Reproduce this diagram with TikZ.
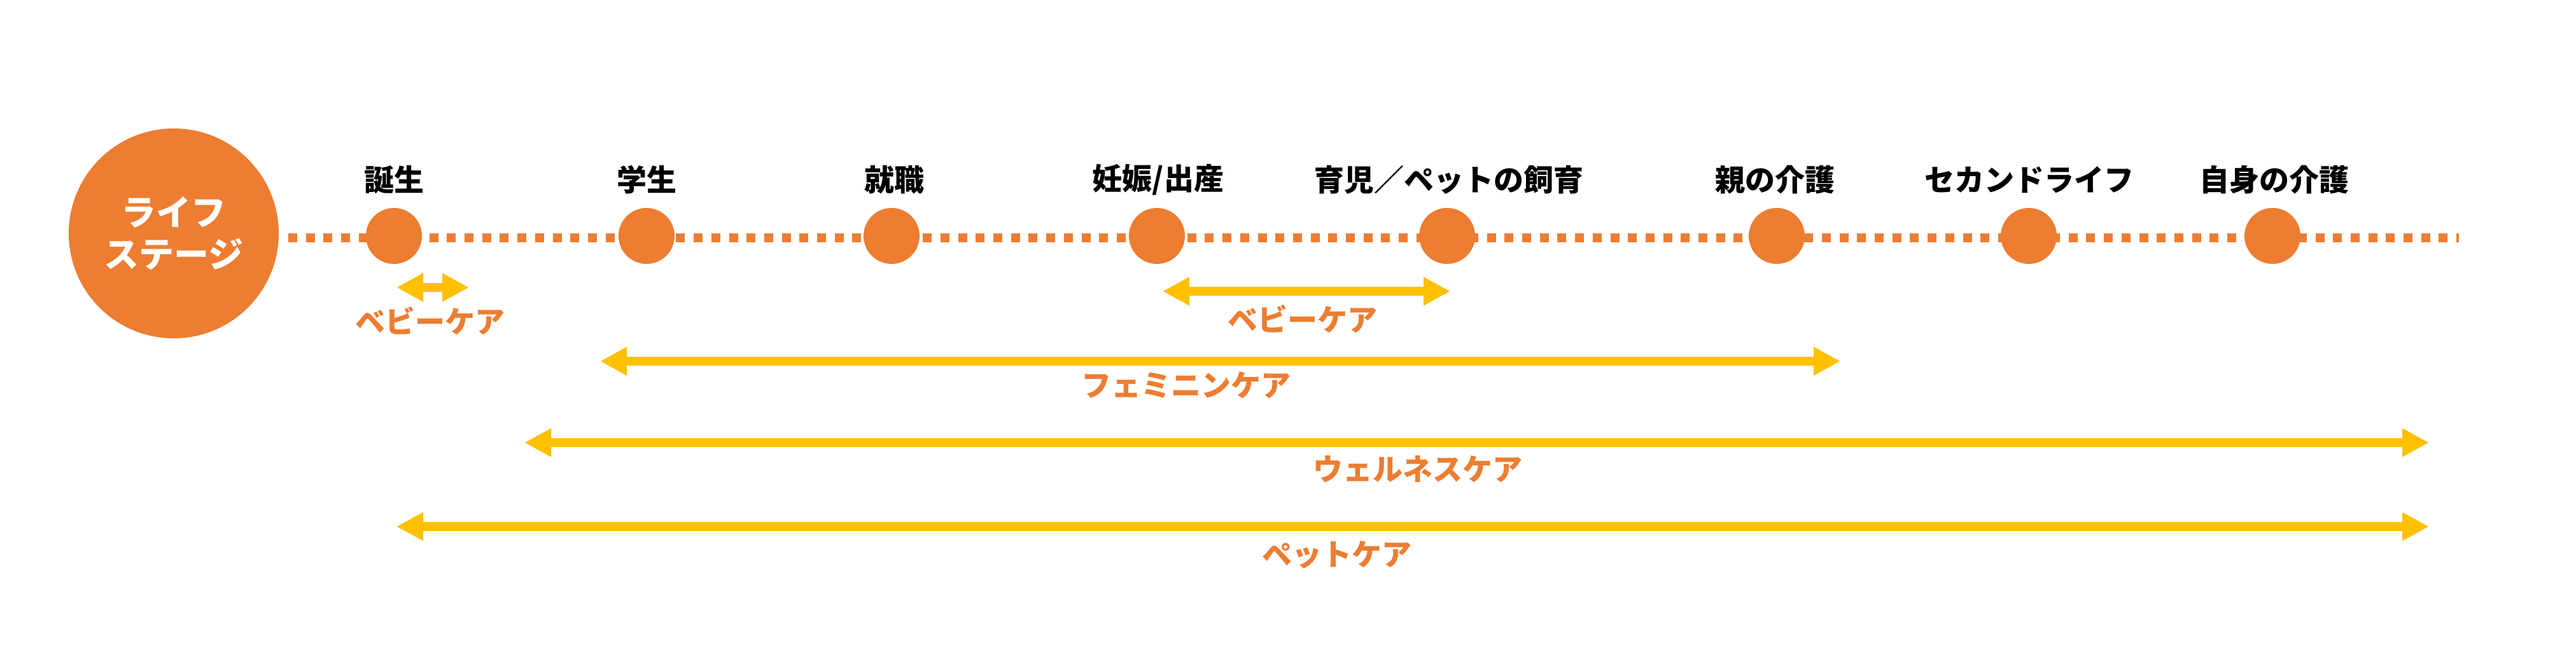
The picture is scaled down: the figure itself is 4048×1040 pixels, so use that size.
\documentclass[tikz,border=0pt]{standalone}
\usepackage{fontspec}
\setmainfont{Noto Sans CJK JP}
\usetikzlibrary{arrows.meta}
\definecolor{lsorange}{HTML}{ED7D31}
\definecolor{lsgold}{HTML}{FFC000}
\begin{document}
\begin{tikzpicture}[x=0.25pt,y=-0.25pt,
  stagedot/.style={circle,fill=lsorange,minimum size=22pt,inner sep=0pt},
  bigdot/.style={circle,fill=lsorange,minimum size=82.5pt,inner sep=0pt,text=white,
    font=\fontsize{13.75pt}{16.5pt}\selectfont\bfseries,align=center},
  stagelabel/.style={inner sep=0pt,font=\fontsize{11.75pt}{14pt}\selectfont\bfseries,text=black},
  carelabel/.style={inner sep=0pt,font=\fontsize{11.75pt}{14pt}\selectfont\bfseries,text=lsorange},
  timeline/.style={draw=lsorange,line width=3.5pt,dash pattern=on 3.5pt off 3.425pt},
  carearrow/.style={draw=lsgold,line width=3.5pt,
    {Triangle[length=10.5pt,width=10.5pt]}-{Triangle[length=10.5pt,width=10.5pt]}},
]
\fill[white] (0,0) rectangle (4048,1040);
\useasboundingbox (0,0) rectangle (4048,1040);

% timeline
\coordinate (ls) at (453,374);
\coordinate (le) at (3864,374);
\draw[timeline] (ls) -- (le);

% life stage circle
\node[bigdot] (stage) at (273,367) {ライフ\\ステージ};

% stage dots
\node[stagedot] (d1) at (619,371) {};
\node[stagedot] (d2) at (1016,371) {};
\node[stagedot] (d3) at (1401,371) {};
\node[stagedot] (d4) at (1818,371) {};
\node[stagedot] (d5) at (2274,371) {};
\node[stagedot] (d6) at (2792,371) {};
\node[stagedot] (d7) at (3188,371) {};
\node[stagedot] (d8) at (3571,371) {};

% stage labels
\node[stagelabel] (l1) at (619,283) {誕生};
\node[stagelabel] (l2) at (1016,283) {学生};
\node[stagelabel] (l3) at (1405,283) {就職};
\node[stagelabel] (l4) at (1820,283) {妊娠/出産};
\node[stagelabel] (l5) at (2277,283) {育児／ペットの飼育};
\node[stagelabel] (l6) at (2789,283) {親の介護};
\node[stagelabel] (l7) at (3189,283) {セカンドライフ};
\node[stagelabel] (l8) at (3574,283) {自身の介護};

% care arrows
\coordinate (b1s) at (623,452);  \coordinate (b1e) at (737,452);
\coordinate (b2s) at (1827,458); \coordinate (b2e) at (2279,458);
\coordinate (fs) at (943,568);   \coordinate (fe) at (2892,568);
\coordinate (ws) at (824,696);   \coordinate (we) at (3817,696);
\coordinate (ps) at (623,828);   \coordinate (pe) at (3817,828);
\draw[carearrow] (b1s) -- (b1e);
\draw[carearrow] (b2s) -- (b2e);
\draw[carearrow] (fs) -- (fe);
\draw[carearrow] (ws) -- (we);
\draw[carearrow] (ps) -- (pe);

% care labels
\node[carelabel] (c1) at (676,505) {ベビーケア};
\node[carelabel] (c2) at (2047,502) {ベビーケア};
\node[carelabel] (c3) at (1864,606) {フェミニンケア};
\node[carelabel] (c4) at (2228,738) {ウェルネスケア};
\node[carelabel] (c5) at (2101,873) {ペットケア};
\end{tikzpicture}
\end{document}
